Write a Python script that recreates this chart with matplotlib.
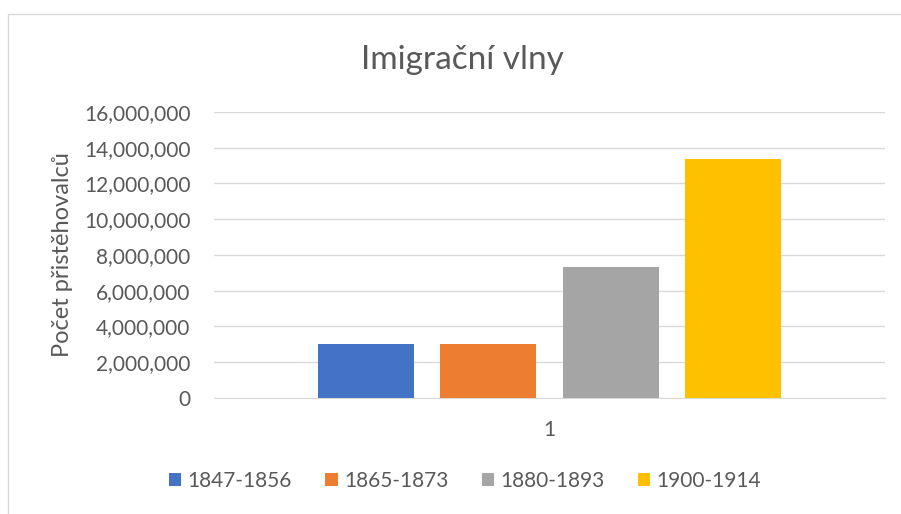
import matplotlib.pyplot as plt
import matplotlib.patches as mpatches
from matplotlib.ticker import FuncFormatter

# data
periods = ['1847-1856', '1865-1873', '1880-1893', '1900-1914']
values = [3000000, 3000000, 7300000, 13350000]
colors = ['#4472C4', '#ED7D31', '#A5A5A5', '#FFC000']
category = '1'

plt.rcParams['font.family'] = ['Lato', 'DejaVu Sans']
text_color = '#595959'

fig = plt.figure(figsize=(9.01, 5.14), dpi=100)
ax = fig.add_axes([0.2375, 0.2257, 0.7447, 0.5565])

# chart border
fig.patches.append(mpatches.Rectangle((8 / 901, -0.1), 1.1, 1 - 14 / 514 + 0.1,
                                      transform=fig.transFigure, fill=False,
                                      edgecolor='#D9D9D9', linewidth=1))

step = 0.182
width = 0.143
for i, (p, v, c) in enumerate(zip(periods, values, colors)):
    ax.bar((i - 1.5) * step, v, width=width, color=c, label=p, zorder=3)

ax.set_xlim(-0.5, 0.5)
ax.set_ylim(0, 16000000)
ax.set_yticks(range(0, 16000001, 2000000))
ax.yaxis.set_major_formatter(FuncFormatter(lambda v, pos: f'{int(v):,}'))
ax.set_xticks([0])
ax.set_xticklabels([category])

ax.grid(axis='y', color='#D9D9D9', linewidth=1, zorder=0)
for s in ['top', 'right', 'left']:
    ax.spines[s].set_visible(False)
ax.spines['bottom'].set_color('#D9D9D9')
ax.tick_params(axis='both', length=0, labelsize=15, colors=text_color)
ax.tick_params(axis='y', pad=17)
ax.tick_params(axis='x', pad=16)

ax.set_ylabel('Počet přistěhovalců', fontsize=17, color=text_color, labelpad=8)
fig.text(462 / 901, 1 - 60 / 514, 'Imigrační vlny', fontsize=24, color=text_color,
         ha='center', va='center')

fig.legend(loc='center', bbox_to_anchor=(465 / 901, 1 - 481 / 514), ncol=4,
           frameon=False, fontsize=15, labelcolor=text_color, handlelength=0.6,
           handleheight=0.6, handletextpad=0.3, columnspacing=1.6)

fig.savefig('out.png', dpi=100, facecolor='white')
